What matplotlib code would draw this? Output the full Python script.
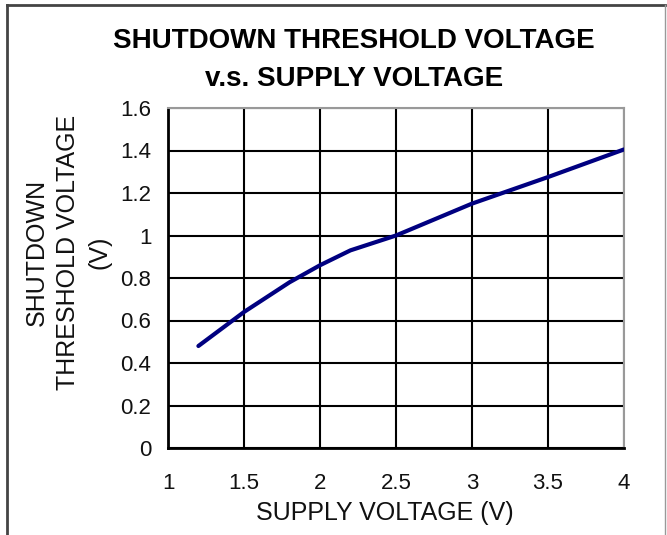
import matplotlib.pyplot as plt
from matplotlib.lines import Line2D

# data
supply_v = [1.2, 1.5, 1.8, 2.0, 2.2, 2.5, 3.0, 3.5, 4.0]
threshold_v = [0.48, 0.64, 0.78, 0.86, 0.93, 1.0, 1.15, 1.275, 1.405]
x_ticks = [1, 1.5, 2, 2.5, 3, 3.5, 4]
x_tick_labels = ['1', '1.5', '2', '2.5', '3', '3.5', '4']
y_ticks = [0, 0.2, 0.4, 0.6, 0.8, 1.0, 1.2, 1.4, 1.6]
y_tick_labels = ['0', '0.2', '0.4', '0.6', '0.8', '1', '1.2', '1.4', '1.6']

plt.rcParams['font.family'] = ['Liberation Sans', 'DejaVu Sans']

W, H = 667, 535
fig = plt.figure(figsize=(W / 100, H / 100), dpi=100)
ax = fig.add_axes([168 / W, 1 - 448 / H, (624 - 168) / W, (448 - 108) / H])

ax.plot(supply_v, threshold_v, color='#000080', linewidth=3, solid_capstyle='round', zorder=3)

ax.set_xlim(1, 4)
ax.set_ylim(0, 1.6)
ax.set_xticks(x_ticks)
ax.set_xticklabels(x_tick_labels)
ax.set_yticks(y_ticks)
ax.set_yticklabels(y_tick_labels)
ax.tick_params(length=0, labelsize=16, colors='#111111')
ax.tick_params(axis='y', pad=12)
ax.tick_params(axis='x', pad=18)
ax.grid(True, color='black', linewidth=1.5)
ax.set_axisbelow(True)

for side in ['left', 'bottom']:
    ax.spines[side].set_color('black')
    ax.spines[side].set_linewidth(2)
for side in ['top', 'right']:
    ax.spines[side].set_color('#999999')
    ax.spines[side].set_linewidth(1.5)

# titles and labels
fig.text(354 / W, 1 - 41 / H, 'SHUTDOWN THRESHOLD VOLTAGE',
         ha='center', va='center', fontsize=20, fontweight='bold')
fig.text(354 / W, 1 - 79 / H, 'v.s. SUPPLY VOLTAGE',
         ha='center', va='center', fontsize=20, fontweight='bold')
fig.text(68 / W, 1 - 252 / H, 'SHUTDOWN\nTHRESHOLD VOLTAGE\n(V)',
         ha='center', va='center', rotation=90, fontsize=18, linespacing=1.38,
         color='#111111')
fig.text(385 / W, 1 - 513 / H, 'SUPPLY VOLTAGE (V)',
         ha='center', va='center', fontsize=18, color='#111111')

# outer frame
frame_kw = dict(color='#444444', linewidth=2, transform=fig.transFigure)
fig.add_artist(Line2D([7 / W, 7 / W], [0, 1 - 5 / H], **frame_kw))
fig.add_artist(Line2D([7 / W, 665 / W], [1 - 5 / H, 1 - 5 / H], **frame_kw))
fig.add_artist(Line2D([665 / W, 665 / W], [0, 1 - 5 / H], color='#999999',
                      linewidth=1, transform=fig.transFigure))

fig.savefig('out.png', dpi=100)
